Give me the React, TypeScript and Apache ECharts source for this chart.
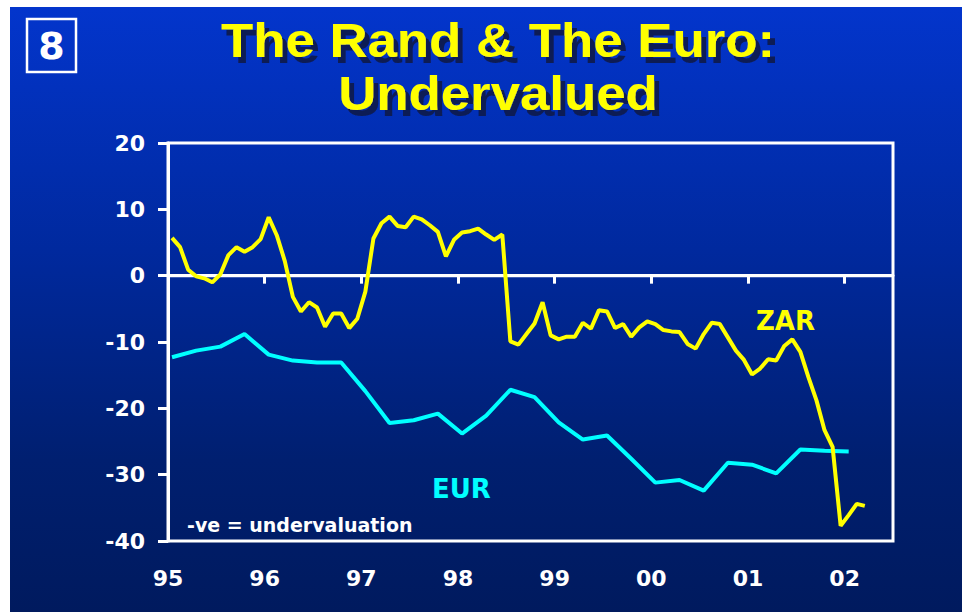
import React, { useEffect, useRef } from 'react';
import * as echarts from 'echarts';

// ---- data ----
const YEAR_TICKS = [1995, 1996, 1997, 1998, 1999, 2000, 2001, 2002];
const YEAR_LABELS = ['95', '96', '97', '98', '99', '00', '01', '02'];
const X_MIN = 1995;
const X_MAX = 2002.5;
const Y_MIN = -40;
const Y_MAX = 20;
const Y_STEP = 10;

// ZAR: monthly, starting mid-January 1995
const ZAR_START = 1995 + 0.5 / 12;
const ZAR_STEP = 1 / 12;
const ZAR = [
  5.7, 4.3, 0.9, -0.1, -0.4, -1.0, 0.2, 3.1, 4.3, 3.6, 4.3, 5.5,
  8.8, 6.1, 2.2, -3.2, -5.4, -4.0, -4.8, -7.7, -5.7, -5.7, -7.9, -6.5,
  -2.4, 5.6, 7.9, 8.9, 7.5, 7.3, 8.9, 8.5, 7.6, 6.6, 2.9, 5.4,
  6.5, 6.7, 7.1, 6.2, 5.4, 6.2, -9.9, -10.4, -8.8, -7.2, -4.0, -9.0,
  -9.6, -9.2, -9.2, -7.1, -8.0, -5.2, -5.4, -7.9, -7.3, -9.2, -7.8, -6.9,
  -7.3, -8.2, -8.4, -8.5, -10.3, -11.0, -8.8, -7.1, -7.3, -9.3, -11.3, -12.7,
  -14.9, -14.0, -12.6, -12.8, -10.6, -9.6, -11.5, -15.3, -18.8, -23.3, -25.8, -37.7,
  -36.1, -34.4, -34.7,
];

// EUR: quarterly, starting mid-January 1995
const EUR_START = 1995 + 0.5 / 12;
const EUR_STEP = 0.25;
const EUR = [
  -12.3, -11.3, -10.7, -8.8,
  -11.9, -12.8, -13.1, -13.1,
  -17.4, -22.2, -21.8, -20.8,
  -23.8, -21.1, -17.2, -18.3,
  -22.1, -24.7, -24.1, -27.6,
  -31.2, -30.8, -32.4, -28.2,
  -28.5, -29.8, -26.2, -26.4,
  -26.5,
];

const ZERO_LINE = [0, 0];

const TITLE_1 = 'The Rand & The Euro:';
const TITLE_2 = 'Undervalued';

const LABEL_FONT = '"DejaVu Sans", Verdana, sans-serif';
const TITLE_FONT = '"Liberation Sans", Arial, sans-serif';

export default function App() {
  const ref = useRef<HTMLDivElement>(null);

  useEffect(() => {
    if (!ref.current) return;
    const chart = echarts.init(ref.current, null, { renderer: 'svg' });

    const zarData = ZAR.map((v, i) => [ZAR_START + i * ZAR_STEP, v]);
    const eurData = EUR.map((v, i) => [EUR_START + i * EUR_STEP, v]);
    const zeroData = [[X_MIN, ZERO_LINE[0]], [X_MAX, ZERO_LINE[1]]];

    const titleStyle = (text: string) => ({
      text,
      fill: '#ffff00',
      font: `bold 48px ${TITLE_FONT}`,
      textAlign: 'center',
      textVerticalAlign: 'middle',
      align: 'center',
      verticalAlign: 'middle',
      textShadowColor: '#0a1a55',
      textShadowOffsetX: 5,
      textShadowOffsetY: 6,
      textShadowBlur: 1,
    });

    chart.setOption({
      animation: false,
      backgroundColor: 'transparent',
      grid: {
        left: 158,
        top: 136,
        width: 725,
        height: 398,
        show: true,
        borderColor: '#ffffff',
        borderWidth: 3,
        backgroundColor: 'transparent',
      },
      xAxis: {
        type: 'value',
        min: X_MIN,
        max: X_MAX,
        interval: 1,
        axisLine: { show: true, lineStyle: { color: '#ffffff', width: 3 } },
        axisTick: {
          show: true,
          inside: false,
          length: 8,
          lineStyle: { color: '#ffffff', width: 3 },
          customValues: YEAR_TICKS,
        },
        axisLabel: {
          color: '#ffffff',
          fontFamily: LABEL_FONT,
          fontWeight: 'bold',
          fontSize: 22,
          margin: 26,
          customValues: YEAR_TICKS,
          formatter: (v: number) => {
            const i = YEAR_TICKS.indexOf(Math.round(v));
            return i >= 0 && Math.abs(v - YEAR_TICKS[i]) < 1e-6 ? YEAR_LABELS[i] : '';
          },
        },
        splitLine: { show: false },
      },
      yAxis: {
        type: 'value',
        min: Y_MIN,
        max: Y_MAX,
        interval: Y_STEP,
        axisLine: { show: true, lineStyle: { color: '#ffffff', width: 3 } },
        axisTick: { show: true, inside: false, length: 10, lineStyle: { color: '#ffffff', width: 3 } },
        axisLabel: {
          color: '#ffffff',
          fontFamily: LABEL_FONT,
          fontWeight: 'bold',
          fontSize: 22,
          margin: 23,
        },
        splitLine: { show: false },
      },
      series: [
        {
          name: 'zero',
          type: 'line',
          data: zeroData,
          symbol: 'none',
          silent: true,
          lineStyle: { color: '#ffffff', width: 3 },
          z: 1,
        },
        {
          name: 'EUR',
          type: 'line',
          data: eurData,
          symbol: 'none',
          lineStyle: { color: '#00ffff', width: 4 },
          z: 2,
        },
        {
          name: 'ZAR',
          type: 'line',
          data: zarData,
          symbol: 'none',
          lineStyle: { color: '#ffff00', width: 4 },
          z: 3,
        },
      ],
      graphic: [
        {
          type: 'rect',
          shape: { x: 17, y: 12, width: 49, height: 53 },
          style: { fill: 'none', stroke: '#ffffff', lineWidth: 2.5 },
        },
        {
          type: 'text',
          x: 41.5,
          y: 39,
          style: {
            text: '8',
            fill: '#ffffff',
            font: `bold 38px ${LABEL_FONT}`,
            textAlign: 'center',
            textVerticalAlign: 'middle',
            align: 'center',
            verticalAlign: 'middle',
          },
        },
        { type: 'text', x: 488, y: 33, scaleX: 1.1, style: titleStyle(TITLE_1) },
        { type: 'text', x: 488, y: 86.5, scaleX: 1.1, style: titleStyle(TITLE_2) },
        {
          type: 'text',
          x: 746,
          y: 314,
          style: {
            text: 'ZAR',
            fill: '#ffff00',
            font: `bold 26px ${LABEL_FONT}`,
            textAlign: 'left',
            textVerticalAlign: 'middle',
            align: 'left',
            verticalAlign: 'middle',
          },
        },
        {
          type: 'text',
          x: 422,
          y: 482,
          style: {
            text: 'EUR',
            fill: '#00ffff',
            font: `bold 26px ${LABEL_FONT}`,
            textAlign: 'left',
            textVerticalAlign: 'middle',
            align: 'left',
            verticalAlign: 'middle',
          },
        },
        {
          type: 'text',
          x: 177,
          y: 518,
          style: {
            text: '-ve = undervaluation',
            fill: '#ffffff',
            font: `bold 19px ${LABEL_FONT}`,
            textAlign: 'left',
            textVerticalAlign: 'middle',
            align: 'left',
            verticalAlign: 'middle',
          },
        },
      ],
    });

    return () => chart.dispose();
  }, []);

  return (
    <div
      ref={ref}
      style={{
        position: 'absolute',
        left: 10,
        top: 7,
        width: 952,
        height: 605,
        background: 'linear-gradient(to bottom, #0335cc 0%, #00299e 40%, #001f70 75%, #001a5e 100%)',
      }}
    />
  );
}
